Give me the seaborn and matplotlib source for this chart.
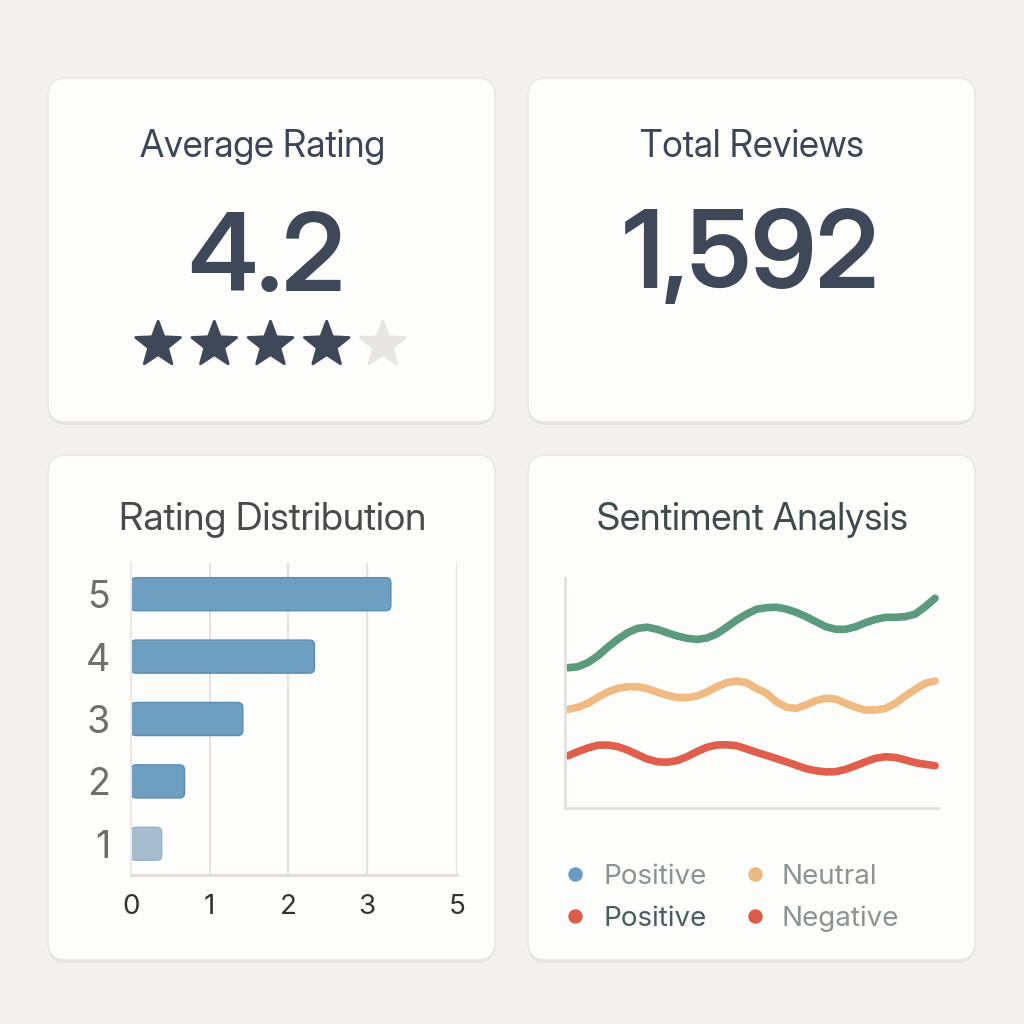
import matplotlib
matplotlib.use("Agg")
import matplotlib.pyplot as plt
import numpy as np
import pandas as pd
import seaborn as sns
from matplotlib.markers import MarkerStyle
from matplotlib.patches import FancyBboxPatch
from matplotlib.path import Path

# ---- data -------------------------------------------------------------
AVERAGE_RATING = 4.2
TOTAL_REVIEWS = 1592

RATING_LABELS = ["5", "4", "3", "2", "1"]
RATING_VALUES = [3.3, 2.33, 1.42, 0.68, 0.39]
RATING_TICKS = [0, 1, 2, 3, 4.14]
RATING_TICK_LABELS = ["0", "1", "2", "3", "5"]

SENT_T = list(range(38))
SENT_POSITIVE = [61.0, 61.4, 63.2, 66.1, 69.9, 73.3, 76.2, 78.1, 78.6, 77.7, 76.2, 74.8, 73.8,
                 73.3, 73.9, 75.7, 78.6, 81.7, 84.3, 86.4, 87.1, 87.3, 86.5, 85.1, 83.2, 81.0,
                 78.8, 77.7, 77.7, 78.8, 80.6, 82.0, 82.9, 82.9, 83.2, 84.3, 87.5, 91.2]
SENT_NEUTRAL = [42.9, 43.8, 45.5, 48.1, 50.4, 52.0, 52.7, 52.7, 51.9, 50.4, 49.0, 48.1, 48.0,
                48.7, 50.4, 52.7, 54.5, 55.2, 54.5, 52.0, 49.9, 46.2, 43.8, 43.3, 44.8, 46.7,
                47.7, 47.3, 45.5, 43.8, 42.6, 42.6, 43.3, 45.5, 48.7, 51.6, 54.2, 55.2]
SENT_NEGATIVE = [22.7, 24.5, 26.1, 27.3, 27.4, 26.7, 25.2, 23.2, 21.3, 20.1, 19.9, 20.6, 22.3,
                 24.5, 26.4, 27.4, 27.5, 27.1, 25.7, 24.2, 22.9, 21.5, 20.1, 18.6, 17.1, 16.2,
                 15.7, 15.8, 16.8, 18.4, 20.1, 21.6, 22.3, 22.0, 20.9, 19.7, 19.0, 18.4]

LEGEND_LABELS = ["Positive", "Neutral", "Positive", "Negative"]

# ---- style ------------------------------------------------------------
BG = "#f3f1ef"
CARD = "#fdfdfc"
DARK = "#3e4859"
BAR_BLUE = "#6e9fc1"
BAR_LIGHT = "#a8bccf"
GREEN = "#5b9a7c"
ORANGE = "#efbb82"
RED = "#df5e4c"
LEGEND_DOTS = ["#6a9ac4", "#ebb880", "#dc5c4c", "#dc5c4c"]
LEGEND_TEXT = ["#8a9592", "#8c9490", "#4a5e5e", "#8c9490"]
HEAD_FONT = ["Inter Display", "Inter", "DejaVu Sans"]

sns.set_theme(style="white")
plt.rcParams["font.family"] = ["Inter", "DejaVu Sans"]

W = 1024


def px_rect(left, top, right, bottom):
    return [left / W, 1 - bottom / W, (right - left) / W, (bottom - top) / W]


fig = plt.figure(figsize=(10.24, 10.24), dpi=100, facecolor=BG)

# background layer with cards and texts, in pixel coordinates
bg = fig.add_axes([0, 0, 1, 1], zorder=0)
bg.set_xlim(0, W)
bg.set_ylim(W, 0)
bg.axis("off")

cards = [(48, 78, 495, 422), (528, 78, 975, 422), (48, 455, 495, 960), (528, 455, 975, 960)]
for left, top, right, bottom in cards:
    w, h = right - left, bottom - top
    bg.add_patch(FancyBboxPatch((left, top + 3), w, h, boxstyle="round,pad=0,rounding_size=18",
                                fc="#000000", ec="none", alpha=0.05))
    bg.add_patch(FancyBboxPatch((left, top), w, h, boxstyle="round,pad=0,rounding_size=18",
                                fc=CARD, ec="#e8e6e4", lw=1))

title_kw = dict(ha="center", va="baseline", family=HEAD_FONT)
bg.text(263, 157, "Average Rating", color="#3d4656", fontsize=26.5, **title_kw)
bg.text(752, 157, "Total Reviews", color="#3d4656", fontsize=26.5, **title_kw)
bg.text(273, 530, "Rating Distribution", color="#4a4a4c", fontsize=27.8, **title_kw)
bg.text(752, 530, "Sentiment Analysis", color="#3f4a4a", fontsize=27, **title_kw)

big_kw = dict(ha="center", va="baseline", fontsize=77, fontweight=600, family=HEAD_FONT, color=DARK)
bg.text(266, 291, f"{AVERAGE_RATING:.1f}", **big_kw)
bg.text(751, 288, f"{TOTAL_REVIEWS:,}", **big_kw)

# legend of the sentiment card
for i, (label, dot, tcol) in enumerate(zip(LEGEND_LABELS, LEGEND_DOTS, LEGEND_TEXT)):
    col, row = i % 2, i // 2
    y = [884, 926][row]
    bg.scatter([[575, 755][col]], [y - 10], s=88, color=dot, edgecolor=dot, zorder=3)
    bg.text([603, 781][col], y, label, ha="left", va="baseline", fontsize=20, color=tcol)

# ---- stars ------------------------------------------------------------
ax_s = fig.add_axes(px_rect(130, 320, 411, 375), zorder=1)
star = MarkerStyle(Path.unit_regular_star(5, 0.42), joinstyle="round")
positions = np.arange(1, 6)
star_colors = [DARK if p <= int(AVERAGE_RATING) else "#e8e6e4" for p in positions]
ax_s.scatter(positions, [0.55] * 5, s=1150, marker=star, c=star_colors,
             edgecolors=star_colors, linewidths=2)
ax_s.set_xlim(0.5, 5.5)
ax_s.set_ylim(0, 1)
ax_s.axis("off")

# ---- rating distribution ----------------------------------------------
ax_b = fig.add_axes(px_rect(131, 563, 457, 875), zorder=1)
ax_b.patch.set_alpha(0)
bars = pd.DataFrame({"rating": RATING_LABELS, "value": RATING_VALUES})
palette = {lab: (BAR_LIGHT if lab == "1" else BAR_BLUE) for lab in RATING_LABELS}
sns.barplot(data=bars, x="value", y="rating", hue="rating", palette=palette,
            order=RATING_LABELS, width=0.53, legend=False, ax=ax_b, orient="h",
            saturation=1)

# swap the plain bars for rounded ones
for patch in list(ax_b.patches):
    x, y = patch.get_x(), patch.get_y()
    w, h = patch.get_width(), patch.get_height()
    fc = patch.get_facecolor()
    ec = "#5b8db3" if fc[0] < 0.55 else "#9bb1c6"
    patch.remove()
    ax_b.add_patch(FancyBboxPatch((x, y), w, h, boxstyle="round,pad=0,rounding_size=0.064",
                                  mutation_aspect=1.26, fc=fc, ec=ec, lw=1, zorder=2))

ax_b.set_xlim(0, RATING_TICKS[-1])
ax_b.set_ylim(4.5, -0.5)
ax_b.set_xticks(RATING_TICKS)
ax_b.set_xticklabels(RATING_TICK_LABELS)
ax_b.grid(axis="x", color="#e6e1df", lw=1.5)
ax_b.set_axisbelow(True)
ax_b.set_xlabel("")
ax_b.set_ylabel("")
ax_b.tick_params(axis="y", length=0, pad=15, labelsize=27, labelcolor="#6e6e6e")
ax_b.tick_params(axis="x", length=0, pad=14, labelsize=20, labelcolor="#333333")
for side in ["top", "right"]:
    ax_b.spines[side].set_visible(False)
ax_b.spines["left"].set_color("#ece8e6")
ax_b.spines["left"].set_linewidth(1.5)
ax_b.spines["bottom"].set_color("#e0dcda")
ax_b.spines["bottom"].set_linewidth(2)

# ---- sentiment analysis -----------------------------------------------
ax_l = fig.add_axes(px_rect(565, 578, 938, 808), zorder=1)
ax_l.patch.set_alpha(0)
n = len(SENT_T)
sent = pd.DataFrame({
    "t": SENT_T * 3,
    "score": SENT_POSITIVE + SENT_NEUTRAL + SENT_NEGATIVE,
    "series": ["Positive"] * n + ["Neutral"] * n + ["Negative"] * n,
})
sns.lineplot(data=sent, x="t", y="score", hue="series",
             palette={"Positive": GREEN, "Neutral": ORANGE, "Negative": RED},
             linewidth=5.5, legend=False, ax=ax_l)
for line in ax_l.lines:
    line.set_solid_capstyle("round")
    line.set_solid_joinstyle("round")
    line.set_clip_on(False)
ax_l.set_xlim(-0.3, 37.3)
ax_l.set_ylim(0, 100)
ax_l.set_xticks([])
ax_l.set_yticks([])
ax_l.set_xlabel("")
ax_l.set_ylabel("")
for side in ["top", "right"]:
    ax_l.spines[side].set_visible(False)
for side in ["left", "bottom"]:
    ax_l.spines[side].set_color("#e4e0de")
    ax_l.spines[side].set_linewidth(2)

fig.savefig("out.png", dpi=100, facecolor=BG)
plt.close(fig)
